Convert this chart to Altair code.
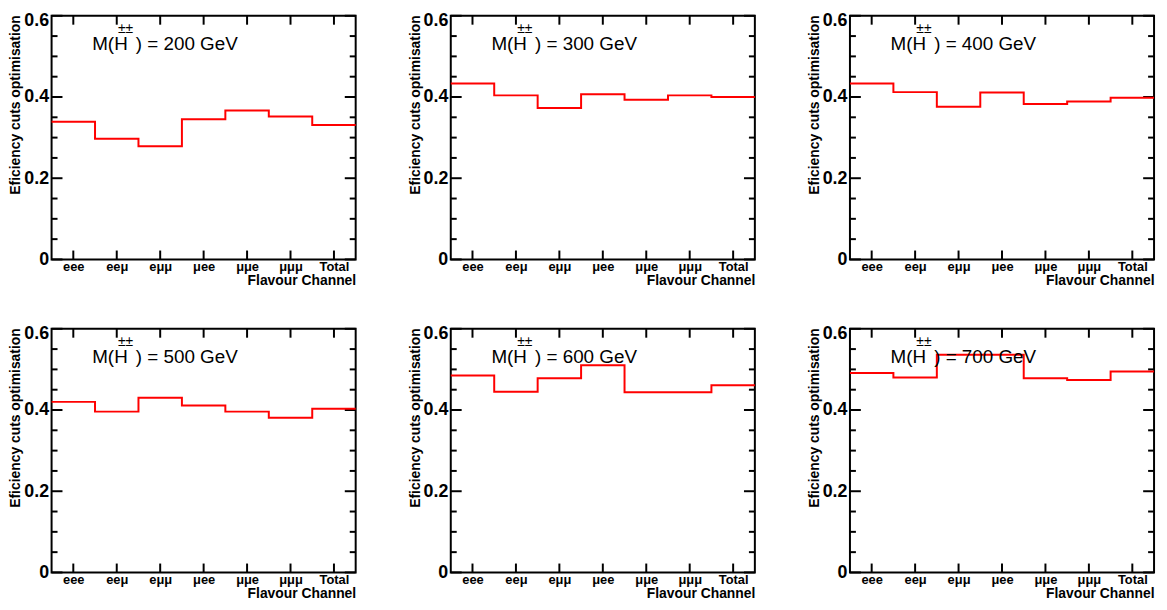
import altair as alt
import pandas as pd

# ---- data ----
channels = ["eee", "eeμ", "eμμ", "μee", "μμe", "μμμ", "Total"]
masses = [200, 300, 400, 500, 600, 700]
eff_200 = [0.339, 0.297, 0.279, 0.345, 0.367, 0.352, 0.331]
eff_300 = [0.433, 0.404, 0.373, 0.407, 0.393, 0.404, 0.400]
eff_400 = [0.433, 0.412, 0.376, 0.411, 0.383, 0.389, 0.398]
eff_500 = [0.420, 0.396, 0.430, 0.411, 0.396, 0.381, 0.403]
eff_600 = [0.485, 0.445, 0.478, 0.510, 0.444, 0.444, 0.461]
eff_700 = [0.491, 0.480, 0.536, 0.536, 0.478, 0.474, 0.495]
all_eff = [eff_200, eff_300, eff_400, eff_500, eff_600, eff_700]

y_major = [0, 0.2, 0.4, 0.6]
y_minor = [0.05, 0.1, 0.15, 0.25, 0.3, 0.35, 0.45, 0.5, 0.55]

FONT = "Liberation Sans"
W, H = 307, 246
NB = len(channels)
centers = [i + 0.5 for i in range(NB)]

label_array = "[" + ",".join("'" + c + "'" for c in channels) + "]"

xscale = alt.Scale(domain=[0, NB], nice=False, zero=False)
yscale = alt.Scale(domain=[0, 0.6], nice=False, zero=False)

xaxis = alt.Axis(
    values=centers,
    labelExpr=label_array + "[floor(datum.value)]",
    ticks=False, tickSize=0, domain=False, grid=False,
    labelFont=FONT, labelFontSize=13, labelFontWeight="bold", labelColor="black",
    labelPadding=1, labelAngle=0,
    title="Flavour Channel", titleFont=FONT, titleFontSize=14, titleFontWeight="bold",
    titleColor="black", titleAlign="right", titleAnchor="end", titleX=W, titleY=25,
    titleBaseline="alphabetic",
)
yaxis = alt.Axis(
    values=y_major, format="~g",
    ticks=False, tickSize=0, domain=False, grid=False,
    labelFont=FONT, labelFontSize=18, labelFontWeight="bold", labelColor="black",
    labelPadding=3,
    labelBaseline={"condition": {"test": "datum.value >= 0.6", "value": "top"}, "value": "middle"},
    labelOffset={"condition": {"test": "datum.value >= 0.6", "value": -4}, "value": 0},
    title="Eficiency cuts optimisation", titleFont=FONT, titleFontSize=14,
    titleFontWeight="bold", titleColor="black", titleAngle=270, titleAlign="right",
    titleBaseline="middle", titleX=-36, titleY=-1,
)

X = alt.X("u:Q", scale=xscale, axis=xaxis)
Y = alt.Y("v:Q", scale=yscale, axis=yaxis)


def tick_layer(df, **mark):
    enc = dict(x=X, y=Y)
    if "x2Offset" in mark:
        enc["x2"] = alt.X2("u")
    else:
        enc["y2"] = alt.Y2("v")
    return alt.Chart(df).mark_rule(color="black", strokeWidth=2, **mark).encode(**enc)


def panel(mass, vals):
    step = pd.DataFrame({"u": list(range(NB + 1)), "v": vals + [vals[-1]]})
    layers = [
        tick_layer(pd.DataFrame({"u": [0] * len(y_major), "v": y_major}), x2Offset=11),
        tick_layer(pd.DataFrame({"u": [0] * len(y_minor), "v": y_minor}), x2Offset=6),
        tick_layer(pd.DataFrame({"u": [NB] * len(y_major), "v": y_major}), x2Offset=-11),
        tick_layer(pd.DataFrame({"u": [NB] * len(y_minor), "v": y_minor}), x2Offset=-6),
        tick_layer(pd.DataFrame({"u": centers, "v": [0] * NB}), y2Offset=-9),
        tick_layer(pd.DataFrame({"u": centers, "v": [0.6] * NB}), y2Offset=9),
        alt.Chart(step).mark_line(interpolate="step-after", color="#ff0000", strokeWidth=2).encode(x=X, y=Y),
    ]
    lab = pd.DataFrame({"a": ["M(H"], "b": ["±±"], "c": [f") = {mass} GeV"]})
    layers += [
        alt.Chart(lab).mark_text(font=FONT, fontSize=19, align="left", baseline="alphabetic", color="black")
        .encode(text="a:N", x=alt.value(41), y=alt.value(35)),
        alt.Chart(lab).mark_text(font=FONT, fontSize=14, align="left", baseline="alphabetic", color="black")
        .encode(text="b:N", x=alt.value(67), y=alt.value(17)),
        alt.Chart(lab).mark_text(font=FONT, fontSize=19, align="left", baseline="alphabetic", color="black")
        .encode(text="c:N", x=alt.value(85), y=alt.value(35)),
    ]
    return alt.layer(*layers).properties(width=W, height=H)


panels = [panel(m, v) for m, v in zip(masses, all_eff)]

chart = (
    alt.concat(*panels, columns=3, spacing={"row": 70, "column": 96}, bounds="flush")
    .properties(padding=0, background="white")
    .configure_view(stroke="black", strokeWidth=2)
)

chart.save("out.html", embed_options={"renderer": "svg", "actions": False})
